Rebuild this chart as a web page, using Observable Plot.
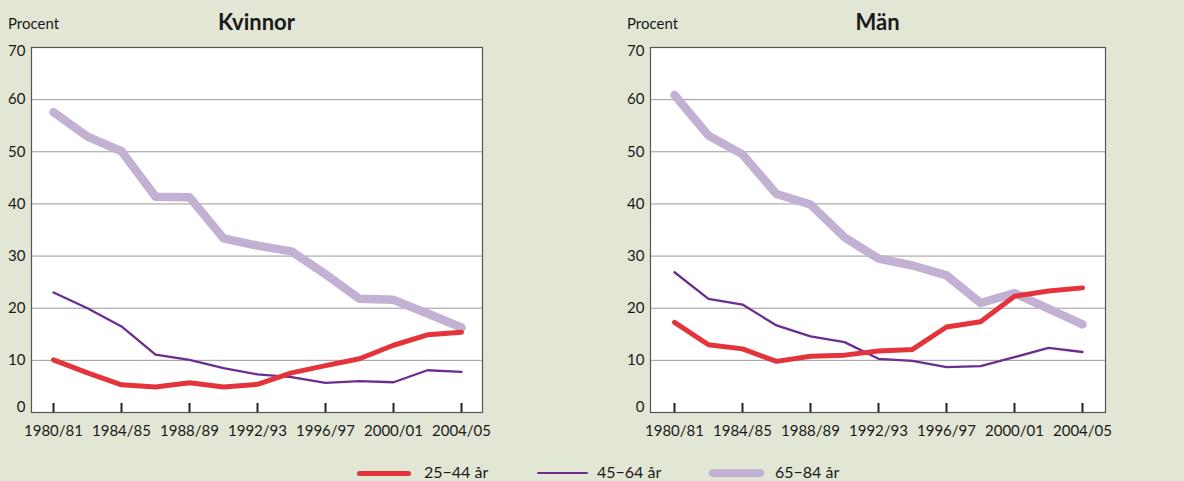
<!DOCTYPE html>
<html><head><meta charset="utf-8">
<script src="https://cdn.jsdelivr.net/npm/d3@7"></script>
<script src="https://cdn.jsdelivr.net/npm/@observablehq/plot@0.6"></script>
<style>
body{margin:0;background:#e2e6d4;font-family:Lato,"Open Sans",sans-serif;color:#1a1a1a;}
#wrap{position:relative;width:1184px;height:481px;overflow:hidden;background:#e2e6d4;}
.panel{position:absolute;top:0;}
.unit{position:absolute;font-size:15px;line-height:18px;}
.title{position:absolute;font-size:22px;line-height:26px;font-weight:bold;transform:translateX(-50%);white-space:nowrap;}
.sw{position:absolute;border-radius:4px;}
.lt{position:absolute;font-size:16px;line-height:18px;white-space:nowrap;}
</style>
</head><body>
<div id="wrap"></div>
<script>
// ---- data ----
const years = ["1980/81","1982/83","1984/85","1986/87","1988/89","1990/91","1992/93","1994/95","1996/97","1998/99","2000/01","2002/03","2004/05"];
const tickYears = ["1980/81","1984/85","1988/89","1992/93","1996/97","2000/01","2004/05"];
const gridValues = [10,20,30,40,50,60];
const seriesNames = ["25−44 år","45−64 år","65−84 år"];
const seriesColors = ["#e2343a","#6b2d8f","#c2b1d3"];
const seriesWidths = [5,2.3,8.5];
const panelTitles = ["Kvinnor","Män"];

const kvinnor25 = [10.1,7.6,5.3,4.9,5.7,4.9,5.4,7.6,9.0,10.3,12.9,14.9,15.4];
const kvinnor45 = [23.0,20.0,16.5,11.1,10.1,8.5,7.3,6.8,5.7,6.0,5.8,8.1,7.8];
const kvinnor65 = [57.6,52.9,50.1,41.4,41.3,33.4,32.0,30.9,26.5,21.8,21.6,19.0,16.3];
const man25 = [17.3,13.0,12.2,9.8,10.8,11.0,11.8,12.1,16.4,17.4,22.3,23.3,23.9];
const man45 = [26.9,21.8,20.7,16.7,14.6,13.5,10.3,9.9,8.7,8.9,10.6,12.4,11.6];
const man65 = [60.9,53.1,49.5,41.9,39.9,33.6,29.5,28.2,26.3,21.0,22.9,19.9,16.9];

function table(arrs){
  const rows = [];
  arrs.forEach((arr, s) => arr.forEach((v, i) => rows.push({year: years[i], value: v, series: seriesNames[s]})));
  return rows;
}
const panels = [
  {title: panelTitles[0], data: table([kvinnor25,kvinnor45,kvinnor65]), left: 0, width: 500, ml: 31, mr: 18},
  {title: panelTitles[1], data: table([man25,man45,man65]), left: 619, width: 565, ml: 31, mr: 79}
];

const wrap = document.getElementById("wrap");
const H = 442, MT = 47, MB = 30;

panels.forEach(p => {
  const drawOrder = [2,1,0];
  const chart = Plot.plot({
    width: p.width, height: H,
    marginTop: MT, marginBottom: MB, marginLeft: p.ml, marginRight: p.mr,
    style: {background: "transparent", fontFamily: "Lato, 'Open Sans', sans-serif", fontSize: "15px", color: "#1a1a1a", overflow: "visible"},
    x: {type: "point", domain: years, padding: 0.55, label: null},
    y: {domain: [0, 70], label: null},
    marks: [
      Plot.frame({fill: "white", stroke: null}),
      Plot.ruleY(gridValues, {stroke: "#9a9a9a", strokeWidth: 1}),
      ...drawOrder.map(s => Plot.line(p.data.filter(d => d.series === seriesNames[s]), {
        x: "year", y: "value", stroke: seriesColors[s], strokeWidth: seriesWidths[s],
        strokeLinejoin: "round", strokeLinecap: "round"
      })),
      Plot.tickX(tickYears, {x: d => d, stroke: "#222", strokeWidth: 2, insetTop: 356}),
      Plot.frame({stroke: "#555", strokeWidth: 1.2}),
      Plot.axisX({ticks: tickYears, tickSize: 0, tickPadding: 13, fontSize: 15}),
      Plot.axisY({ticks: gridValues, tickSize: 0, tickPadding: 6, fontSize: 15}),
      Plot.axisY({ticks: [0], tickSize: 0, tickPadding: 6, fontSize: 15, dy: -5}),
      Plot.axisY({ticks: [70], tickSize: 0, tickPadding: 6, fontSize: 15, dy: 4})
    ]
  });
  chart.classList.add("panel");
  chart.style.left = p.left + "px";
  wrap.appendChild(chart);

  const unit = document.createElement("div");
  unit.className = "unit";
  unit.textContent = "Procent";
  unit.style.left = (p.left + 8) + "px";
  unit.style.top = "14px";
  wrap.appendChild(unit);

  const t = document.createElement("div");
  t.className = "title";
  t.textContent = p.title;
  t.style.left = (p.left + p.ml + (p.width - p.ml - p.mr) / 2) + "px";
  t.style.top = "9px";
  wrap.appendChild(t);
});

// legend
const swX = [357, 537, 709], swW = [54, 51, 55], txX = [424, 597, 775];
seriesNames.forEach((name, i) => {
  const sw = document.createElement("div");
  sw.className = "sw";
  sw.style.background = seriesColors[i];
  sw.style.left = swX[i] + "px";
  sw.style.width = swW[i] + "px";
  sw.style.height = seriesWidths[i] + "px";
  sw.style.top = (473 - seriesWidths[i] / 2) + "px";
  wrap.appendChild(sw);
  const tx = document.createElement("div");
  tx.className = "lt";
  tx.textContent = name;
  tx.style.left = txX[i] + "px";
  tx.style.top = "463px";
  wrap.appendChild(tx);
});
</script>
</body></html>
